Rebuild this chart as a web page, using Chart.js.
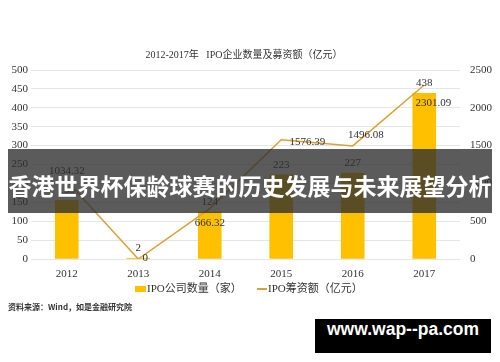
<!DOCTYPE html>
<html>
<head>
<meta charset="utf-8">
<script src="https://cdn.jsdelivr.net/npm/chart.js@4"></script>
<style>
  html, body { margin: 0; padding: 0; background: #fff; }
  #wrap { position: relative; width: 500px; height: 362px; overflow: hidden; }
  #banner {
    position: absolute; left: 8px; top: 149px; width: 484px; height: 64px;
    background: rgba(45, 45, 45, 0.78); color: #fff;
    font: bold 23px "Noto Sans CJK SC", sans-serif; line-height: 72px;
    text-align: center; white-space: nowrap;
  }
  #mark {
    position: absolute; left: 315px; top: 319px; width: 176px; height: 34px;
    background: #000; color: #fff; text-align: center; line-height: 34px;
    font: bold 17.5px "Liberation Sans", sans-serif;
  }
</style>
</head>
<body>
<div id="wrap">
  <canvas id="chart" width="500" height="362"></canvas>
  <div id="banner">香港世界杯保龄球赛的历史发展与未来展望分析</div>
  <div id="mark">www.wap--pa.com</div>
</div>
<script>
const years = ['2012', '2013', '2014', '2015', '2016', '2017'];
const ipoCount = [155, 2, 124, 223, 227, 438];
const ipoAmount = [1034.32, 0, 666.32, 1576.39, 1496.08, 2301.09];
const amountLabels = ['1034.32', '0', '666.32', '1576.39', '1496.08', '2301.09'];
const leftTicks = [0, 50, 100, 150, 200, 250, 300, 350, 400, 450, 500];
const rightTicks = [0, 500, 1000, 1500, 2000, 2500];

const titleText = '2012-2017年   IPO企业数量及募资额（亿元）';
const legendBar = 'IPO公司数量（家）';
const legendLine = 'IPO筹资额（亿元）';
const sourceText = '资料来源：Wind，如是金融研究院';

const serif = '"Liberation Serif", "Noto Sans CJK SC", serif';
const barColor = '#FFC000';
const lineColor = '#DDA035';

const extras = {
    id: 'extras',
    afterDatasetsDraw(chart) {
        const c = chart.ctx;
        c.save();
        c.fillStyle = '#333';
        c.font = '11px ' + serif;
        c.textAlign = 'center';
        c.textBaseline = 'middle';
        // bar value labels
        chart.getDatasetMeta(0).data.forEach((el, i) => {
            c.fillText(String(ipoCount[i]), el.x, el.y - 10);
        });
        // line value labels
        const off = [[0, -10], [7, -1], [0, 14], [26, 2], [13, -11], [9, 18]];
        chart.getDatasetMeta(1).data.forEach((el, i) => {
            c.fillText(amountLabels[i], el.x + off[i][0], el.y + off[i][1]);
        });
        c.restore();
    },
    afterDraw(chart) {
        const c = chart.ctx;
        c.save();
        c.fillStyle = '#333';
        c.textBaseline = 'middle';
        c.textAlign = 'center';
        c.font = '10px ' + serif;
        c.fillText(titleText, 244, 55);
        // legend
        c.textAlign = 'left';
        c.font = '11px ' + serif;
        c.fillStyle = barColor;
        c.fillRect(135, 286, 11, 6);
        c.fillStyle = '#333';
        c.fillText(legendBar, 147, 289);
        c.strokeStyle = lineColor;
        c.lineWidth = 2;
        c.beginPath();
        c.moveTo(257, 289);
        c.lineTo(267, 289);
        c.stroke();
        c.fillText(legendLine, 268, 289);
        c.font = 'bold 8px "Noto Sans CJK SC", sans-serif';
        c.fillText(sourceText, 8, 307);
        c.restore();
    }
};

new Chart(document.getElementById('chart'), {
    data: {
        labels: years,
        datasets: [
            {
                type: 'bar',
                label: legendBar,
                data: ipoCount,
                backgroundColor: barColor,
                barThickness: 23,
                yAxisID: 'y',
                order: 2
            },
            {
                type: 'line',
                label: legendLine,
                data: ipoAmount,
                borderColor: lineColor,
                borderWidth: 1.5,
                pointRadius: 0,
                tension: 0,
                yAxisID: 'y1',
                order: 1
            }
        ]
    },
    options: {
        responsive: false,
        animation: false,
        layout: { padding: { top: 70, bottom: 81, left: 0, right: 0 } },
        plugins: {
            legend: { display: false },
            tooltip: { enabled: false }
        },
        scales: {
            x: {
                grid: { display: false },
                border: { display: false },
                ticks: { color: '#333', font: { family: serif, size: 11 }, padding: 1 },
                afterFit: s => { s.height = 22; }
            },
            y: {
                position: 'left',
                min: 0, max: 500,
                afterBuildTicks: s => { s.ticks = leftTicks.map(v => ({ value: v })); },
                grid: { color: '#e6e6e6', drawTicks: false },
                border: { display: false },
                ticks: { color: '#333', font: { family: serif, size: 11 }, padding: 3, callback: v => String(v) },
                afterFit: s => { s.width = 31; }
            },
            y1: {
                position: 'right',
                min: 0, max: 2500,
                afterBuildTicks: s => { s.ticks = rightTicks.map(v => ({ value: v })); },
                grid: { display: false, drawTicks: false },
                border: { display: false },
                ticks: { color: '#333', font: { family: serif, size: 11 }, padding: 10, callback: v => String(v) },
                afterFit: s => { s.width = 40; }
            }
        }
    },
    plugins: [extras]
});
</script>
</body>
</html>
